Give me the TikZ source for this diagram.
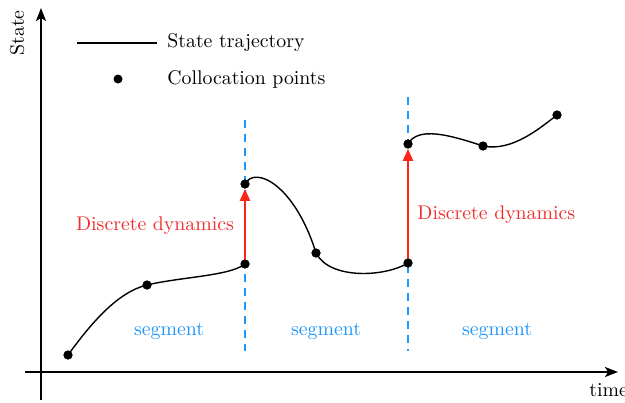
\documentclass[tikz,border=0pt]{standalone}
\usepackage{fontspec}
\setmainfont{Latin Modern Roman}
\usetikzlibrary{arrows.meta}
\definecolor{dynred}{RGB}{250,40,25}
\definecolor{dyntext}{RGB}{240,45,45}
\definecolor{segblue}{RGB}{30,150,250}
\begin{document}
\begin{tikzpicture}[x=0.5pt,y=-0.5pt,
  every node/.style={font=\fontsize{9.9}{12}\selectfont},
  axis/.style={line width=0.9pt,-{Stealth[length=6.5pt,width=5pt,inset=1.5pt]}},
  traj/.style={line width=0.7pt},
  dot/.style={circle,fill=black,inner sep=0pt,minimum size=4.5pt},
  jump/.style={dynred,line width=1.2pt,-{Triangle[length=6pt,width=5pt]}},
  bound/.style={segblue,line width=0.7pt,dash pattern=on 4pt off 3pt},
  redlbl/.style={text=dyntext,inner sep=0pt},
  seglbl/.style={text=segblue,inner sep=0pt}]
\useasboundingbox (0,0) rectangle (625,402);
% axes
\coordinate (yb) at (41,400);
\coordinate (yt) at (41,8);
\coordinate (xl) at (25,372);
\coordinate (xr) at (618,372);
\draw[axis] (yb) -- (yt);
\draw[axis] (xl) -- (xr);
\node[rotate=90,inner sep=0pt] (ylab) at (17,33) {State};
\node[anchor=west,inner sep=0pt] (xlab) at (589,390) {time};
% legend
\coordinate (l1) at (77,43);
\coordinate (l2) at (157,43);
\draw[traj] (l1) -- (l2);
\node[anchor=west,inner sep=0pt] (lt1) at (167,43) {State trajectory};
\node[dot] (ld) at (118,79) {};
\node[anchor=west,inner sep=0pt] (lt2) at (167,79) {Collocation points};
% boundaries
\coordinate (d1t) at (245,120);
\coordinate (d1b) at (245,351);
\coordinate (d2t) at (408,97);
\coordinate (d2b) at (408,351);
\draw[bound] (d1t) -- (d1b);
\draw[bound] (d2t) -- (d2b);
% points
\node[dot] (p1) at (68,355) {};
\node[dot] (p2) at (147,285) {};
\node[dot] (p3) at (245,264) {};
\node[dot] (p4) at (245,184) {};
\node[dot] (p5) at (316,253) {};
\node[dot] (p6) at (408,263) {};
\node[dot] (p7) at (408,144) {};
\node[dot] (p8) at (483,146) {};
\node[dot] (p9) at (557,115) {};
% trajectory
\draw[traj] (p1.center) .. controls (92,322) and (118,292) .. (p2.center)
  .. controls (180,277) and (230,276) .. (p3.center);
\draw[traj] (p4.center) .. controls (255,165) and (295,185) .. (p5.center)
  .. controls (330,280) and (385,277) .. (p6.center);
\draw[traj] (p7.center) .. controls (418,126) and (450,135) .. (p8.center)
  .. controls (512,152) and (540,128) .. (p9.center);
% discrete jumps
\draw[jump] (p3.center) -- (p4.south);
\draw[jump] (p6.center) -- (p7.south);
\node[redlbl] (dd1) at (155,226) {Discrete dynamics};
\node[redlbl,anchor=west] (dd2) at (417,215) {Discrete dynamics};
% segment labels
\node[seglbl] (s1) at (169,331) {segment};
\node[seglbl] (s2) at (326,331) {segment};
\node[seglbl] (s3) at (497,331) {segment};
% dots on top
\foreach \p in {p1,p2,p3,p4,p5,p6,p7,p8,p9} \fill (\p.center) circle (2.25pt);
\end{tikzpicture}
\end{document}
